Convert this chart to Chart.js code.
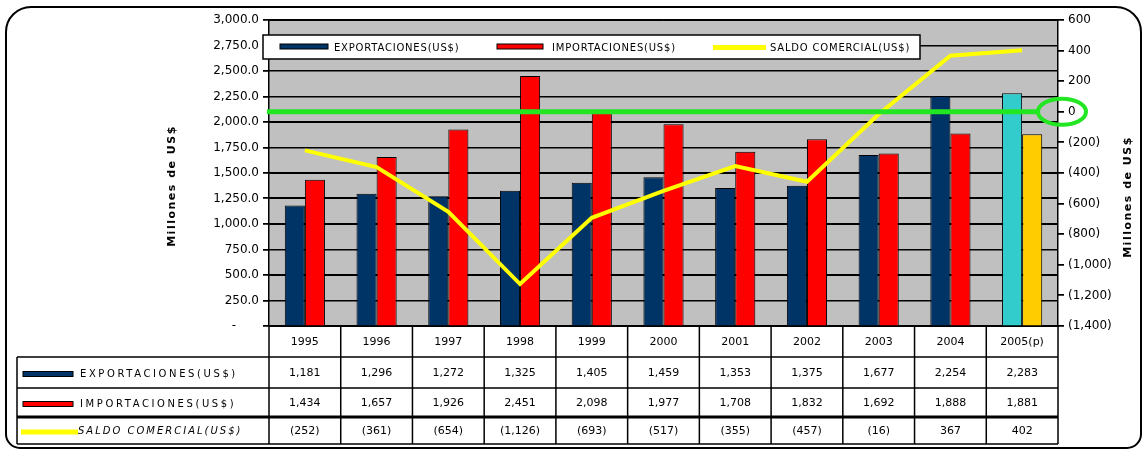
<!DOCTYPE html>
<html>
<head>
<meta charset="utf-8">
<script src="https://cdn.jsdelivr.net/npm/chart.js@4.4.1/dist/chart.umd.min.js"></script>
<style>
  html, body { margin: 0; padding: 0; background: #fff; }
</style>
</head>
<body>
<canvas id="chart" width="1143" height="452"></canvas>
<script>
const years = ['1995', '1996', '1997', '1998', '1999', '2000', '2001', '2002', '2003', '2004', '2005(p)'];
const exportaciones = [1181, 1296, 1272, 1325, 1405, 1459, 1353, 1375, 1677, 2254, 2283];
const importaciones = [1434, 1657, 1926, 2451, 2098, 1977, 1708, 1832, 1692, 1888, 1881];
const saldoComercial = [-252, -361, -654, -1126, -693, -517, -355, -457, -16, 367, 402];

// axis tick values
const leftTicks = [0, 250, 500, 750, 1000, 1250, 1500, 1750, 2000, 2250, 2500, 2750, 3000];
const rightTicks = [-1400, -1200, -1000, -800, -600, -400, -200, 0, 200, 400, 600];

const seriesLabels = ['EXPORTACIONES(US$)', 'IMPORTACIONES(US$)', 'SALDO COMERCIAL(US$)'];
const axisTitle = 'Millones de US$';

const NAVY = '#003366', RED = '#ff0000', YELLOW = '#ffff00';
const CYAN = '#33cccc', GOLD = '#ffcc00', GREEN = '#22e622';
const FONT = 'DejaVu Sans';

// last year (projection) gets its own colours
const exportColors = years.map((y, i) => i === years.length - 1 ? CYAN : NAVY);
const importColors = years.map((y, i) => i === years.length - 1 ? GOLD : RED);

const fmtTable = v => v < 0 ? '(' + Math.abs(v).toLocaleString('en-US') + ')' : v.toLocaleString('en-US');

// pixel for a value on a scale, with a linear fallback from the chart area
function pix(scale, v, a, min, max) {
  const p = scale.getPixelForValue(v);
  return Number.isFinite(p) ? p : a.bottom - (v - min) / (max - min) * (a.bottom - a.top);
}

const decor = {
  id: 'decor',
  beforeDraw(chart) {
    const { ctx, chartArea: a, scales } = chart;
    ctx.save();
    ctx.fillStyle = '#c0c0c0';
    ctx.fillRect(a.left, a.top, a.right - a.left, a.bottom - a.top);
    // gridlines and tick marks as thin filled rectangles
    ctx.fillStyle = '#000000';
    leftTicks.forEach(v => {
      const y = Math.round(pix(scales.y, v, a, 0, 3000));
      ctx.fillRect(a.left - 6, y - 1, a.right - a.left + 6, 1.5);
    });
    rightTicks.forEach(v => {
      const y = Math.round(pix(scales.y1, v, a, -1400, 600));
      ctx.fillRect(a.right, y - 1, 6, 1.5);
    });
    ctx.restore();
  },
  afterDatasetsDraw(chart) {
    // green reference line at zero of the right axis, with the circle around "0"
    const { ctx, chartArea: a, scales } = chart;
    const y0 = pix(scales.y1, 0, a, -1400, 600);
    ctx.save();
    ctx.strokeStyle = GREEN;
    ctx.lineWidth = 5;
    ctx.beginPath();
    ctx.moveTo(a.left - 2, y0);
    ctx.lineTo(a.right - 20, y0);
    ctx.stroke();
    ctx.lineWidth = 4;
    ctx.beginPath();
    ctx.ellipse(a.right + 4, y0, 24, 13, 0, 0, Math.PI * 2);
    ctx.stroke();
    ctx.restore();
  },
  afterDraw(chart) {
    const { ctx, chartArea: a, scales } = chart;
    ctx.save();

    // right-axis tick marks again, outside the plot (nothing covers them here)
    ctx.fillStyle = '#000000';
    rightTicks.forEach(v => {
      const y = Math.round(pix(scales.y1, v, a, -1400, 600));
      ctx.fillRect(a.right, y - 1, 6, 1.5);
    });
    leftTicks.forEach(v => {
      const y = Math.round(pix(scales.y, v, a, 0, 3000));
      ctx.fillRect(a.left - 6, y - 1, 6, 1.5);
    });

    // legend box inside plot
    ctx.fillStyle = '#fff';
    ctx.fillRect(a.left - 6, 35, 920 - (a.left - 6), 24);
    ctx.strokeStyle = '#000';
    ctx.lineWidth = 1.5;
    ctx.strokeRect(a.left - 6, 35, 920 - (a.left - 6), 24);
    ctx.font = '10px "' + FONT + '"';
    ctx.letterSpacing = '0.8px';
    ctx.textBaseline = 'middle';
    const ly = 47;
    const drawBarSwatch = (x, w, y, col) => {
      ctx.fillStyle = col;
      ctx.fillRect(x, y - 3, w, 5);
      ctx.strokeStyle = '#000';
      ctx.lineWidth = 1;
      ctx.strokeRect(x, y - 3, w, 5);
    };
    drawBarSwatch(280, 48, ly, NAVY);
    drawBarSwatch(497, 46, ly, RED);
    ctx.fillStyle = YELLOW;
    ctx.fillRect(713, ly - 2, 53, 5);
    ctx.fillStyle = '#000';
    ctx.textAlign = 'left';
    ctx.fillText(seriesLabels[0], 334, ly + 1);
    ctx.fillText(seriesLabels[1], 552, ly + 1);
    ctx.fillText(seriesLabels[2], 770, ly + 1);

    // data table below the plot
    const xs = scales.x;
    const colW = (a.right - a.left) / years.length;
    const tTop = a.bottom, r1 = 357, r2 = 388, r3 = 417, tBot = 444, lx = 17;
    ctx.strokeStyle = '#000';
    ctx.lineWidth = 1.5;
    ctx.beginPath();
    for (let i = 0; i <= years.length; i++) {
      const x = a.left + i * colW;
      ctx.moveTo(x, tTop);
      ctx.lineTo(x, tBot);
    }
    ctx.moveTo(lx, r1); ctx.lineTo(lx, tBot);
    [r1, r2, tBot].forEach(y => { ctx.moveTo(lx, y); ctx.lineTo(a.right, y); });
    ctx.stroke();
    ctx.lineWidth = 3;
    ctx.beginPath();
    ctx.moveTo(lx, r3); ctx.lineTo(a.right, r3);
    ctx.stroke();

    ctx.letterSpacing = '0px';
    ctx.font = '11px "' + FONT + '"';
    ctx.textAlign = 'center';
    ctx.fillStyle = '#000';
    years.forEach((yr, i) => {
      const cx = xs.getPixelForValue(i);
      ctx.fillText(yr, cx, (tTop + r1) / 2 + 1);
      ctx.fillText(fmtTable(exportaciones[i]), cx, (r1 + r2) / 2 + 1);
      ctx.fillText(fmtTable(importaciones[i]), cx, (r2 + r3) / 2 + 1);
      ctx.fillText(fmtTable(saldoComercial[i]), cx, (r3 + tBot) / 2 + 1);
    });

    // row headers with swatches
    const rowY = [(r1 + r2) / 2 + 2, (r2 + r3) / 2 + 2, (r3 + tBot) / 2 + 1];
    drawBarSwatch(23, 50, rowY[0], NAVY);
    drawBarSwatch(23, 50, rowY[1], RED);
    ctx.fillStyle = YELLOW;
    ctx.fillRect(21, rowY[2] - 2, 57, 5);
    ctx.fillStyle = '#000';
    ctx.font = '10px "' + FONT + '"';
    ctx.letterSpacing = '2.6px';
    ctx.textAlign = 'left';
    ctx.fillText(seriesLabels[0], 80, rowY[0]);
    ctx.fillText(seriesLabels[1], 80, rowY[1]);
    ctx.font = 'italic 10px "' + FONT + '"';
    ctx.letterSpacing = '2px';
    ctx.fillText(seriesLabels[2], 78, rowY[2]);

    // axis titles
    ctx.font = 'bold 11px "' + FONT + '"';
    ctx.letterSpacing = '1.5px';
    ctx.textAlign = 'center';
    [[172, 186], [1128, 197]].forEach(([tx, ty]) => {
      ctx.save();
      ctx.translate(tx, ty);
      ctx.rotate(-Math.PI / 2);
      ctx.fillText(axisTitle, 0, 0);
      ctx.restore();
    });

    // outer rounded frame
    ctx.letterSpacing = '0px';
    ctx.strokeStyle = '#000';
    ctx.lineWidth = 2;
    ctx.beginPath();
    ctx.roundRect(6, 7, 1135, 441, [25, 25, 14, 14]);
    ctx.stroke();
    ctx.restore();
  }
};

new Chart(document.getElementById('chart'), {
  type: 'bar',
  data: {
    labels: years,
    datasets: [
      {
        label: seriesLabels[0],
        data: exportaciones,
        backgroundColor: exportColors,
        borderColor: '#000',
        borderWidth: 1,
        yAxisID: 'y',
        order: 1,
      },
      {
        label: seriesLabels[1],
        data: importaciones,
        backgroundColor: importColors,
        borderColor: '#000',
        borderWidth: 1,
        yAxisID: 'y',
        order: 1,
      },
      {
        type: 'line',
        label: seriesLabels[2],
        data: saldoComercial,
        borderColor: YELLOW,
        borderWidth: 4,
        pointRadius: 0,
        tension: 0,
        fill: false,
        yAxisID: 'y1',
        order: 0,
      },
    ],
  },
  options: {
    responsive: false,
    animation: false,
    devicePixelRatio: 1,
    layout: {
      padding: { top: 20, bottom: 126, left: 0, right: 0 },
    },
    datasets: {
      bar: { categoryPercentage: 0.56, barPercentage: 1 },
    },
    plugins: {
      legend: { display: false },
      tooltip: { enabled: false },
    },
    scales: {
      x: { display: false },
      y: {
        min: 0,
        max: 3000,
        afterFit: s => { s.width = 269; },
        ticks: {
          stepSize: 250,
          padding: 10,
          color: '#000',
          font: { family: FONT, size: 12 },
          callback: v => v === 0 ? '-      ' : v.toLocaleString('en-US', { minimumFractionDigits: 1, maximumFractionDigits: 1 }),
        },
        grid: { color: '#000000', lineWidth: 1, drawTicks: false },
        border: { color: '#000', width: 1.5 },
      },
      y1: {
        position: 'right',
        min: -1400,
        max: 600,
        afterFit: s => { s.width = 85; },
        ticks: {
          stepSize: 200,
          padding: 10,
          color: '#000',
          font: { family: FONT, size: 12 },
          callback: v => v < 0 ? '(' + Math.abs(v).toLocaleString('en-US') + ')' : String(v),
        },
        grid: { drawOnChartArea: false, drawTicks: false },
        border: { color: '#000', width: 1.5 },
      },
    },
  },
  plugins: [decor],
});
</script>
</body>
</html>
